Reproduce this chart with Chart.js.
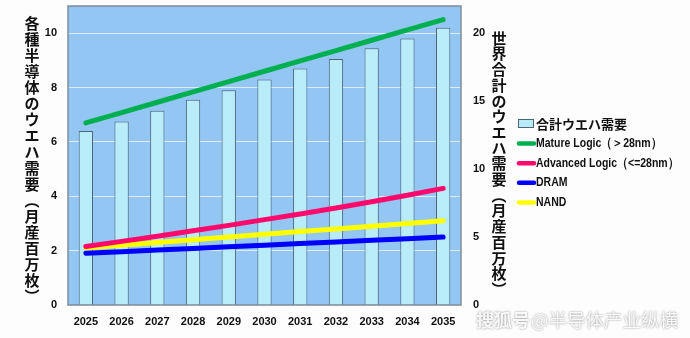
<!DOCTYPE html>
<html>
<head>
<meta charset="utf-8">
<script src="https://cdn.jsdelivr.net/npm/chart.js@4"></script>
<style>
  html, body { margin: 0; padding: 0; background: #fdfdfd; }
  #wafer { display: block; }
</style>
</head>
<body>
<canvas id="wafer" width="690" height="338"></canvas>
<script>
const years = ["2025","2026","2027","2028","2029","2030","2031","2032","2033","2034","2035"];

// 合計 (right axis)
const totalDemand = [12.8, 13.5, 14.3, 15.1, 15.8, 16.6, 17.4, 18.1, 18.9, 19.6, 20.4];

// per segment (left axis)
const matureLogic   = [6.7, 7.08, 7.46, 7.84, 8.22, 8.6, 8.98, 9.36, 9.74, 10.12, 10.5];
const advancedLogic = [2.15, 2.34, 2.53, 2.73, 2.93, 3.14, 3.35, 3.57, 3.8, 4.04, 4.29];
const dram          = [1.9, 1.96, 2.02, 2.08, 2.14, 2.2, 2.26, 2.32, 2.38, 2.44, 2.5];
const nand          = [2.1, 2.2, 2.3, 2.4, 2.5, 2.6, 2.7, 2.8, 2.9, 3.0, 3.1];

const leftTicks = [0, 2, 4, 6, 8, 10];
const rightTicks = [0, 5, 10, 15, 20];

const leftTitle = "各種半導体のウエハ需要︵月産百万枚︶";
const rightTitle = "世界合計のウエハ需要︵月産百万枚︶";

const NUM_FONT = '"Liberation Sans", Arial, sans-serif';
const JP_FONT = '"Noto Sans CJK JP", "Noto Sans CJK SC", sans-serif';

// plot background + frame
const plotFrame = {
  id: "plotFrame",
  beforeDraw(chart){
    const {ctx, chartArea: a} = chart;
    ctx.save();
    ctx.fillStyle = "#93c6f3";
    ctx.fillRect(a.left, a.top, a.right - a.left, a.bottom - a.top);
    ctx.restore();
  },
  afterDatasetsDraw(chart){
    const {ctx, chartArea: a} = chart;
    ctx.save();
    ctx.strokeStyle = "#7d8c99";
    ctx.lineWidth = 1.5;
    ctx.strokeRect(a.left, a.top, a.right - a.left, a.bottom - a.top);
    ctx.restore();
  }
};

// upright stacked axis titles, custom legend and the watermark
function drawVertical(ctx, text, x, y, step){
  for (let i = 0; i < text.length; i++){
    ctx.fillText(text[i], x, y + i * step);
  }
}

const extras = {
  id: "extras",
  afterDraw(chart){
    const ctx = chart.ctx;
    ctx.save();
    ctx.fillStyle = "#111";
    ctx.font = "bold 15px " + JP_FONT;
    ctx.textAlign = "center";
    ctx.textBaseline = "middle";
    drawVertical(ctx, leftTitle, 32, 23, 16.1);
    drawVertical(ctx, rightTitle, 499, 38, 15.7);

    // legend
    const items = [
      {label: "合計ウエハ需要", box: true},
      {label: "Mature Logic（＞28nm）", color: "#00b050"},
      {label: "Advanced Logic（<=28nm）", color: "#ff0a6c"},
      {label: "DRAM", color: "#0000ff"},
      {label: "NAND", color: "#ffff00"}
    ];
    let y = 124;
    ctx.textAlign = "left";
    for (const it of items){
      if (it.box){
        ctx.fillStyle = "#b8ecf8";
        ctx.fillRect(518.5, y - 4.5, 15, 8);
        ctx.strokeStyle = "#4d6577";
        ctx.lineWidth = 1;
        ctx.strokeRect(518.5, y - 4.5, 15, 8);
        ctx.font = "bold 13px " + JP_FONT;
      } else {
        ctx.strokeStyle = it.color;
        ctx.lineWidth = 4.5;
        ctx.lineCap = "round";
        ctx.beginPath();
        ctx.moveTo(519, y);
        ctx.lineTo(534, y);
        ctx.stroke();
        ctx.font = "bold 12.5px " + NUM_FONT;
      }
      ctx.fillStyle = "#111";
      ctx.save();
      ctx.translate(536, y);
      if (!it.box) ctx.scale(0.84, 1); // narrow face
      ctx.fillText(it.label, 0, 0);
      ctx.restore();
      y += 19.6;
    }

    // watermark
    ctx.font = "bold 18px " + JP_FONT;
    ctx.shadowColor = "rgba(90,90,90,0.8)";
    ctx.shadowBlur = 2;
    ctx.fillStyle = "rgba(255,255,255,0.92)";
    ctx.fillText("搜狐号", 476, 320);
    ctx.font = "18.5px " + JP_FONT;
    ctx.fillText("@半导体产业纵横", 531, 320);
    ctx.restore();
  }
};

function onlyTicks(list){
  return function(scale){
    scale.ticks = list.map(v => ({value: v}));
  };
}

// fixed axis box, no extra room for half-labels at the ends
function fixedSize(dim, size){
  return function(s){
    s[dim] = size;
    s.paddingTop = 0;
    s.paddingBottom = 0;
    s.paddingLeft = 0;
    s.paddingRight = 0;
  };
}

function drawWaferChart(){
  const el = document.getElementById("wafer");
  const ctx = el.getContext("2d");

  const lineStyle = {
    type: "line",
    yAxisID: "y",
    borderWidth: 5,
    borderCapStyle: "round",
    pointRadius: 0,
    tension: 0,
    order: 1
  };
  const tickFont = { family: NUM_FONT, size: 11, weight: "bold" };

  new Chart(ctx, {
    data: {
      labels: years,
      datasets: [
        {
          type: "bar",
          label: "合計ウエハ需要",
          data: totalDemand,
          yAxisID: "y1",
          backgroundColor: "#b8ecf8",
          borderColor: "#4d6577",
          borderWidth: 1,
          barPercentage: 0.4,
          categoryPercentage: 1,
          order: 2
        },
        {...lineStyle, label: "DRAM", data: dram, borderColor: "#0000ff"},
        {...lineStyle, label: "Advanced Logic（<=28nm）", data: advancedLogic, borderColor: "#ff0a6c"},
        {...lineStyle, label: "NAND", data: nand, borderColor: "#ffff00"},
        {...lineStyle, label: "Mature Logic（＞28nm）", data: matureLogic, borderColor: "#00b050"}
      ]
    },
    options: {
      responsive: false,
      animation: false,
      layout: { padding: { left: 0, right: 189, top: 6, bottom: 0 } },
      plugins: {
        legend: { display: false },
        tooltip: { enabled: false }
      },
      scales: {
        x: {
          offset: true,
          grid: { display: false, drawTicks: false },
          border: { display: false },
          ticks: { color: "#111", padding: 10, font: tickFont },
          afterFit: fixedSize("height", 33)
        },
        y: {
          position: "left",
          min: 0,
          max: 11,
          afterBuildTicks: onlyTicks(leftTicks),
          grid: { color: "rgba(235,242,250,0.85)", lineWidth: 1, drawTicks: false },
          border: { display: false },
          ticks: { color: "#111", padding: 11, font: tickFont },
          afterFit: fixedSize("width", 68)
        },
        y1: {
          position: "right",
          min: 0,
          max: 22,
          afterBuildTicks: onlyTicks(rightTicks),
          grid: { display: false, drawTicks: false },
          border: { display: false },
          ticks: { color: "#111", padding: 12, font: tickFont },
          afterFit: fixedSize("width", 40)
        }
      }
    },
    plugins: [plotFrame, extras]
  });
}

document.addEventListener("DOMContentLoaded", drawWaferChart);
</script>
</body>
</html>
